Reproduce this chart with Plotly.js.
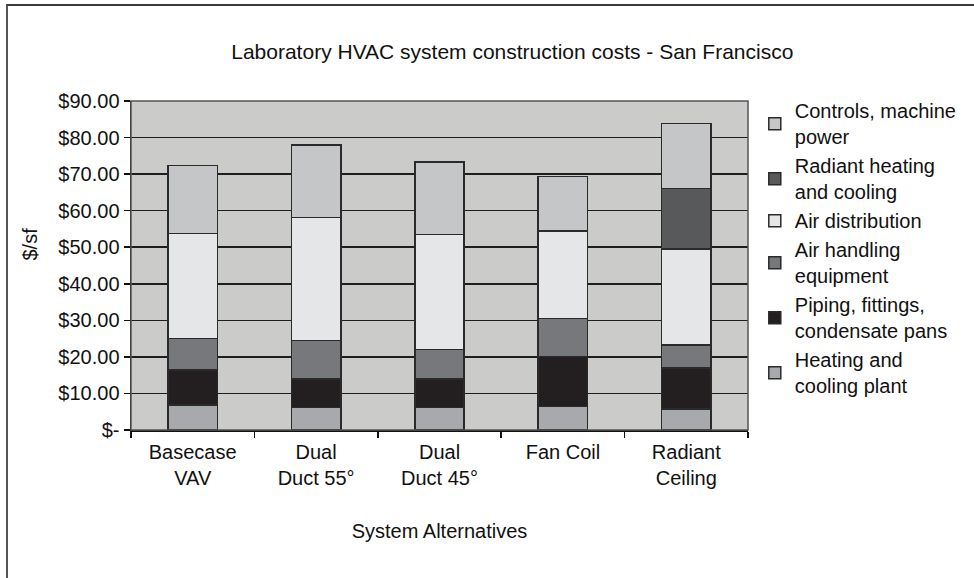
<!DOCTYPE html>
<html>
<head>
<meta charset="utf-8">
<script src="https://cdn.plot.ly/plotly-3.0.1.min.js"></script>
<style>
html,body{margin:0;padding:0;background:#fff;}
#wrap{position:relative;width:974px;height:578px;overflow:hidden;}
#chart{position:absolute;left:0;top:0;width:974px;height:578px;}
#frame{position:absolute;left:6px;top:4px;width:1000px;height:600px;border-top:2px solid #3a3a3a;border-left:2px solid #555;pointer-events:none;}
</style>
</head>
<body>
<div id="wrap"><div id="chart"></div><div id="frame"></div></div>
<script>
const categories = ["Basecase<br>VAV", "Dual<br>Duct 55°", "Dual<br>Duct 45°", "Fan Coil", "Radiant<br>Ceiling"];
const heatingCoolingPlant = [6.8, 6.2, 6.1, 6.4, 5.7];
const pipingFittings = [9.6, 7.8, 7.9, 13.7, 11.3];
const airHandlingEquipment = [8.7, 10.5, 8.0, 10.4, 6.3];
const airDistribution = [28.7, 33.7, 31.5, 24.0, 26.2];
const radiantHeatingCooling = [0, 0, 0, 0, 16.5];
const controlsMachinePower = [18.5, 19.8, 19.8, 14.8, 17.9];
const yTickVals = [0, 10, 20, 30, 40, 50, 60, 70, 80, 90];
const yTickText = ["$-", "$10.00", "$20.00", "$30.00", "$40.00", "$50.00", "$60.00", "$70.00", "$80.00", "$90.00"];

const seriesDefs = [
  {name: "Heating and<br>cooling plant", y: heatingCoolingPlant, color: "#a8a9ac"},
  {name: "Piping, fittings,<br>condensate pans", y: pipingFittings, color: "#231f20"},
  {name: "Air handling<br>equipment", y: airHandlingEquipment, color: "#77787b"},
  {name: "Air distribution", y: airDistribution, color: "#e5e6e8"},
  {name: "Radiant heating<br>and cooling", y: radiantHeatingCooling, color: "#58595b"},
  {name: "Controls, machine<br>power", y: controlsMachinePower, color: "#c5c6c8"}
];

const traces = seriesDefs.map((s, i) => ({
  type: "bar",
  x: categories,
  y: s.y,
  name: s.name,
  legendrank: 100 - i,
  marker: {color: s.color, line: {color: "#2a2a2a", width: 1.5}},
  hoverinfo: "name+y"
}));

const font = {family: "Liberation Sans, Arial, sans-serif", size: 20, color: "#111"};

const layout = {
  width: 974, height: 578,
  margin: {l: 131, r: 222, t: 101, b: 148},
  paper_bgcolor: "#ffffff",
  plot_bgcolor: "#cbcbc9",
  font: font,
  barmode: "stack",
  bargap: 0.6,
  showlegend: true,
  title: {text: "Laboratory HVAC system construction costs - San Francisco", font: {family: font.family, size: 21, color: "#111"}, x: 0.526, xref: "container", xanchor: "center", y: 0.91, yref: "container", yanchor: "middle"},
  xaxis: {
    type: "category",
    tickson: "boundaries",
    ticks: "outside", ticklen: 6, tickcolor: "#111", tickwidth: 1.5,
    ticklabelstandoff: 3,
    showline: true, linecolor: "#111", linewidth: 1.5, mirror: false,
    showgrid: false,
    tickfont: font,
    title: {text: "System Alternatives", font: font, standoff: 36}
  },
  yaxis: {
    range: [0, 90],
    tickvals: yTickVals, ticktext: yTickText,
    ticks: "outside", ticklen: 6, tickcolor: "#111", tickwidth: 1.5,
    showline: true, linecolor: "#111", linewidth: 1.5,
    showgrid: true, gridcolor: "#1e1e1e", gridwidth: 1.5,
    zeroline: false,
    tickfont: font,
    title: {text: ""}
  },
  legend: {
    x: 1.011, xanchor: "left", y: 1.03, yanchor: "top",
    traceorder: "normal",
    font: font,
    bgcolor: "rgba(0,0,0,0)",
    itemwidth: 30,
    maxheight: 1
  },
  annotations: [
    {text: "$/sf", xref: "paper", yref: "paper", x: -0.163, y: 0.565, xanchor: "center", yanchor: "middle", textangle: -90, showarrow: false, font: font}
  ],
  shapes: [
    {type: "rect", xref: "paper", yref: "paper", x0: 0, x1: 1, y0: 0, y1: 1, line: {color: "#555", width: 1.5}, layer: "above"}
  ]
};

Plotly.newPlot("chart", traces, layout, {displayModeBar: false, staticPlot: true});
</script>
</body>
</html>
